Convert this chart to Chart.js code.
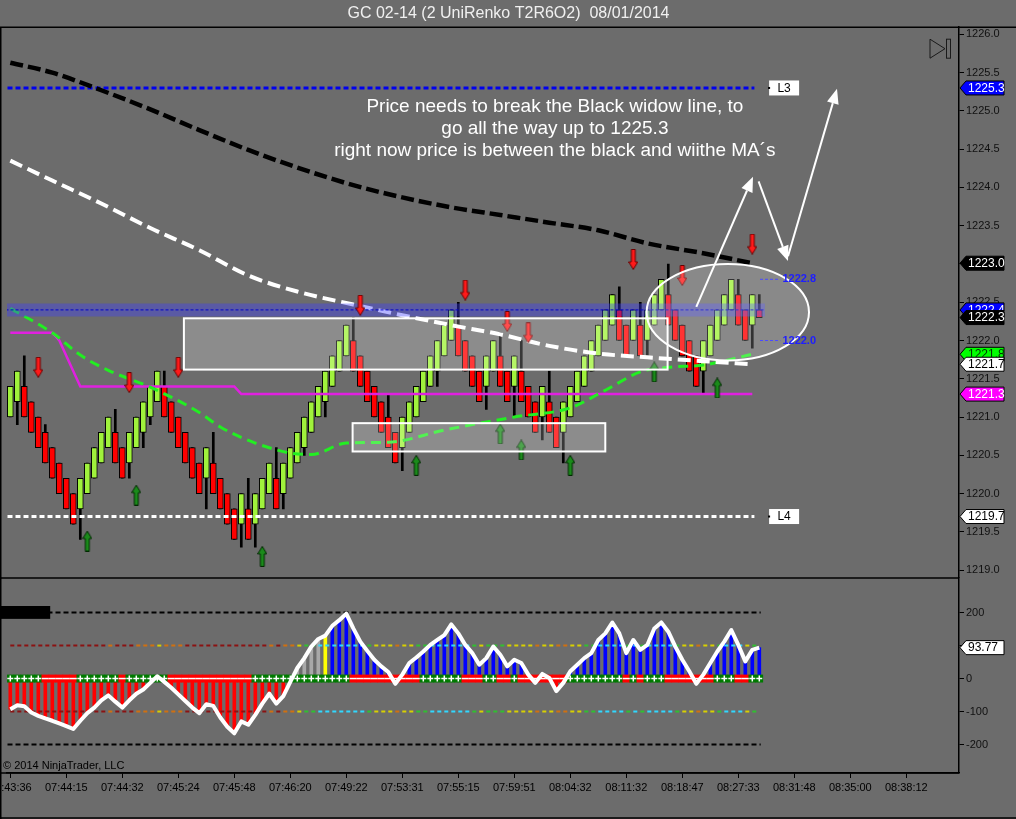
<!DOCTYPE html>
<html>
<head>
<meta charset="utf-8">
<title>GC 02-14 (2 UniRenko T2R6O2) 08/01/2014</title>
<script src="https://cdn.jsdelivr.net/npm/chart.js@4.4.0/dist/chart.umd.min.js"></script>
<style>
  html, body { margin: 0; padding: 0; background: #6c6c6c; }
  #chart { display: block; }
</style>
</head>
<body>
<canvas id="chart" width="1016" height="819"></canvas>
<script>
// ---- price bars, index 1..108
const barOpen = [
  1221.0,1221.2,1221.4,1221.2,1221.0,1220.8,1220.6,1220.4,1220.2,1220.0,
  1219.8,1220.0,1220.2,1220.4,1220.6,1220.8,1220.6,1220.4,1220.6,1220.8,
  1221.0,1221.2,1221.4,1221.2,1221.0,1220.8,1220.6,1220.4,1220.2,1220.4,
  1220.2,1220.0,1219.8,1219.6,1219.8,1219.6,1219.8,1220.0,1220.2,1220.0,
  1220.2,1220.4,1220.6,1220.8,1221.0,1221.2,1221.4,1221.6,1221.8,1222.0,
  1221.8,1221.6,1221.4,1221.2,1221.0,1220.8,1220.6,1220.8,1221.0,1221.2,
  1221.4,1221.6,1221.8,1222.0,1222.2,1222.0,1221.8,1221.6,1221.4,1221.6,
  1221.8,1221.6,1221.4,1221.6,1221.4,1221.2,1221.0,1221.2,1221.0,1220.8,
  1221.0,1221.2,1221.4,1221.6,1221.8,1222.0,1222.2,1222.4,1222.2,1222.0,
  1222.2,1222.0,1222.2,1222.4,1222.6,1222.4,1222.2,1222.0,1221.8,1221.6,
  1221.8,1222.0,1222.2,1222.4,1222.6,1222.4,1222.2,1222.4];
const barClose = [
  1221.4,1221.6,1221.0,1220.8,1220.6,1220.4,1220.2,1220.0,1219.8,1219.6,
  1220.2,1220.4,1220.6,1220.8,1221.0,1220.4,1220.2,1220.8,1221.0,1221.2,
  1221.4,1221.6,1221.0,1220.8,1220.6,1220.4,1220.2,1220.0,1220.6,1220.0,
  1219.8,1219.6,1219.4,1220.0,1219.4,1220.0,1220.2,1220.4,1219.8,1220.4,
  1220.6,1220.8,1221.0,1221.2,1221.4,1221.6,1221.8,1222.0,1222.2,1221.6,
  1221.4,1221.2,1221.0,1220.8,1220.6,1220.4,1221.0,1221.2,1221.4,1221.6,
  1221.8,1222.0,1222.2,1222.4,1221.8,1221.6,1221.4,1221.2,1221.8,1222.0,
  1221.4,1221.2,1221.8,1221.2,1221.0,1220.8,1221.4,1220.8,1220.6,1221.2,
  1221.4,1221.6,1221.8,1222.0,1222.2,1222.4,1222.6,1222.0,1221.8,1222.4,
  1221.8,1222.4,1222.6,1222.8,1222.2,1222.0,1221.8,1221.6,1221.4,1222.0,
  1222.2,1222.4,1222.6,1222.8,1222.2,1222.0,1222.6,1222.3];
// wicks that stick out of the body
const highBars = [3, 6, 16, 23, 30, 35, 39, 50, 55, 65, 71, 74, 78, 88, 91, 95, 105, 108];
const highVals = [1221.8,1220.9,1221.1,1221.6,1220.8,1220.2,1220.6,1222.3,1221.3,1222.5,1222.1,1222.0,1221.6,1222.7,1222.5,1223.0,1222.8,1222.6];
const lowBars = [2, 11, 18, 20, 21, 29, 34, 36, 40, 43, 46, 57, 62, 69, 73, 77, 80, 92, 100, 107];
const lowVals = [1220.9,1219.4,1220.2,1220.6,1220.9,1219.8,1219.3,1219.3,1219.8,1220.5,1221.0,1220.3,1221.4,1221.1,1221.0,1220.7,1220.4,1221.8,1221.3,1221.9];

// signal arrows
const downArrowBars = [5, 18, 25, 51, 66, 72, 75, 90, 97, 107];
const downArrowVals = [1221.65,1221.45,1221.65,1222.46,1222.66,1222.25,1222.10,1223.06,1222.85,1223.26];
const upArrowBars = [12, 19, 37, 59, 71, 74, 81, 93, 102];
const upArrowVals = [1219.38,1219.98,1219.18,1220.37,1220.78,1220.57,1220.37,1221.59,1221.38];

// moving averages (sampled along the bars)
const blackMaBars = [1, 7, 14, 21, 28, 35, 42, 50, 57, 64, 71, 78, 85, 92, 100, 107];
const blackMaVals = [1225.63,1225.50,1225.27,1225.02,1224.75,1224.49,1224.26,1224.03,1223.87,1223.74,1223.64,1223.54,1223.44,1223.27,1223.14,1223.01];
const whiteMaVals = [1224.35,1224.09,1223.79,1223.47,1223.18,1222.85,1222.64,1222.47,1222.33,1222.20,1222.08,1221.93,1221.83,1221.78,1221.73,1221.69];
const greenMaBars = [1, 7, 11, 15, 21, 28, 31, 36, 41, 44, 49, 55, 63, 73, 81, 86, 91, 95, 100, 107];
const greenMaVals = [1222.42,1222.10,1221.81,1221.61,1221.39,1221.06,1220.87,1220.66,1220.53,1220.51,1220.66,1220.67,1220.83,1221.00,1221.12,1221.35,1221.59,1221.65,1221.68,1221.82];
const magentaBars = [1, 7, 8, 11, 33, 34, 107];
const magentaVals = [1222.1, 1222.1, 1222.0, 1221.4, 1221.4, 1221.3, 1221.3];

// horizontal levels
const levelL3 = 1225.3;
const levelL4 = 1219.7;
const bandLevel = 1222.4;
const rangeLevels = [1222.8, 1222.0];

// lower panel: oscillator per bar and trend sign of the zero strip
const cci = [
  -93,-81,-84,-103,-113,-121,-128,-136,-144,-153,
  -128,-105,-88,-66,-51,-70,-88,-66,-46,-33,
  -13,7,-10,-28,-48,-68,-88,-105,-78,-83,
  -118,-146,-166,-130,-140,-110,-76,-46,-76,-53,
  -10,32,62,97,120,130,160,177,197,152,
  112,84,57,37,20,-16,12,47,64,82,
  102,117,132,164,137,102,77,42,62,97,
  72,37,57,47,12,-13,14,2,-38,-13,
  22,42,62,77,117,137,170,137,77,117,
  87,102,152,170,142,97,57,22,-16,12,
  47,82,112,147,102,52,87,93.77];
const trendSign = [
  1,1,1,1,1,-1,-1,-1,-1,-1,
  1,1,1,1,1,1,-1,1,1,1,
  1,1,1,-1,-1,-1,-1,-1,-1,-1,
  -1,-1,-1,-1,-1,1,1,1,1,1,
  1,1,1,1,1,1,1,1,1,-1,
  -1,-1,-1,-1,-1,-1,-1,-1,-1,1,
  1,1,1,1,1,-1,-1,-1,1,1,
  -1,-1,1,-1,-1,-1,-1,-1,-1,-1,
  1,1,1,1,1,1,1,1,-1,1,
  -1,1,1,1,-1,-1,-1,-1,-1,-1,
  -1,1,1,1,-1,-1,1,1];
const cciLevels = [200, 100, -100, -200];

// axes
const timeTickBars = [1, 9, 17, 25, 33, 41, 49, 57, 65, 73, 81, 89, 97, 105, 113, 121, 129];
const timeLabels = ['07:43:36','07:44:15','07:44:32','07:45:24','07:45:48','07:46:20','07:49:22','07:53:31',
  '07:55:15','07:59:51','08:04:32','08:11:32','08:18:47','08:27:33','08:31:48','08:35:00','08:38:12'];
const priceTicks = [1219.0,1219.5,1220.0,1220.5,1221.0,1221.5,1222.0,1222.5,1223.0,1223.5,1224.0,1224.5,1225.0,1225.5,1226.0];
const cciTicks = [200, 100, 0, -100, -200];

// hand drawn marks on the chart (data coordinates)
const zoneBoxes = [
  { x0: 25.8, x1: 94.9, lo: 1221.62, hi: 1222.29 },
  { x0: 49.9, x1: 86.0, lo: 1220.55, hi: 1220.92 }
];
const zoneEllipse = { x0: 91.9, x1: 115.1, lo: 1221.74, hi: 1223.0 };
const pathArrows = [
  { x0: 99.0, y0: 1222.44, x1: 107.1, y1: 1224.14 },
  { x0: 107.9, y0: 1224.08, x1: 112.1, y1: 1223.04 },
  { x0: 112.1, y0: 1223.10, x1: 119.1, y1: 1225.29 }
];
const noteLines = ['Price needs to break the Black widow line, to', 'go all the way up to 1225.3',
  'right now price is between the black and wiithe MA\u00b4s'];
const noteAt = { x: 78.8, y: 1225.05 };

const FONT = '"Liberation Sans", Arial, sans-serif';
const BAR_UP = '#a0f23c';
const BAR_DN = '#ff0000';
const BAR_STEP = 7;      // pixels per bar
const FIRST_BAR_X = 10.3; // pixel centre of bar 1
const bars = barOpen.map((_, i) => i + 1);
const pick = (list, vals, n, dflt) => { const k = list.indexOf(n); return k >= 0 ? vals[k] : dflt; };
const wickLo = bars.map((n, i) => pick(lowBars, lowVals, n, Math.min(barOpen[i], barClose[i])));
const wickHi = bars.map((n, i) => pick(highBars, highVals, n, Math.max(barOpen[i], barClose[i])));
const pts = (xs, ys) => xs.map((x, i) => ({ x: x, y: ys[i] }));
const flat = (x0, x1, v) => [{ x: x0, y: v }, { x: x1, y: v }];

function arrowImage(up, fill, edge) {
  const c = document.createElement('canvas');
  c.width = 10; c.height = 21;
  const g = c.getContext('2d');
  g.beginPath();
  if (up) {
    g.moveTo(5, 0.5); g.lineTo(9.5, 8); g.lineTo(7, 8); g.lineTo(7, 20.5);
    g.lineTo(3, 20.5); g.lineTo(3, 8); g.lineTo(0.5, 8);
  } else {
    g.moveTo(3, 0.5); g.lineTo(7, 0.5); g.lineTo(7, 13); g.lineTo(9.5, 13);
    g.lineTo(5, 20.5); g.lineTo(0.5, 13); g.lineTo(3, 13);
  }
  g.closePath();
  g.fillStyle = fill; g.fill();
  g.strokeStyle = edge; g.lineWidth = 1; g.stroke();
  return c;
}
const downArrow = arrowImage(false, '#ff1a1a', '#6a0000');
const upArrow = arrowImage(true, '#1b8a1b', '#002a00');

const histColor = (v, n) => {
  if (n >= 42 && n <= 45) return '#a8a8a8';
  if (n === 46) return '#ffff00';
  return v < 0 ? '#ff0000' : '#0000ff';
};
const levelColor = v => v < -60 ? '#8b1212' : v < 0 ? '#d07010' : v < 60 ? '#d8d000' : v < 100 ? '#30c030' : '#30d8ff';

function lineSet(label, data, color, width, dash, order, axis) {
  return {
    type: 'line', label: label, data: data, borderColor: color, borderWidth: width,
    borderDash: dash || [], pointRadius: 0, fill: false, tension: 0,
    order: order, yAxisID: axis || 'y', borderCapStyle: 'butt'
  };
}

const overlay = {
  id: 'overlay',
  beforeDraw(chart) {
    const ctx = chart.ctx;
    ctx.save();
    ctx.fillStyle = '#6c6c6c';
    ctx.fillRect(0, 0, chart.width, chart.height);
    ctx.restore();
  },
  afterDatasetsDraw(chart) {
    const { ctx, chartArea: ca } = chart;
    const sx = chart.scales.x, sy = chart.scales.y, sy2 = chart.scales.y2;
    const px = v => sx.getPixelForValue(v), py = v => sy.getPixelForValue(v);
    ctx.save();

    // translucent zones
    ctx.lineWidth = 2;
    ctx.strokeStyle = '#ffffff';
    ctx.fillStyle = 'rgba(255,255,255,0.22)';
    zoneBoxes.forEach(b => {
      const x = px(b.x0), y = py(b.hi), w = px(b.x1) - x, h = py(b.lo) - y;
      ctx.fillRect(x, y, w, h);
      ctx.strokeRect(x, y, w, h);
    });
    const ex = (px(zoneEllipse.x0) + px(zoneEllipse.x1)) / 2, ey = (py(zoneEllipse.lo) + py(zoneEllipse.hi)) / 2;
    ctx.beginPath();
    ctx.ellipse(ex, ey, (px(zoneEllipse.x1) - px(zoneEllipse.x0)) / 2, (py(zoneEllipse.lo) - py(zoneEllipse.hi)) / 2, 0, 0, Math.PI * 2);
    ctx.fillStyle = 'rgba(255,255,255,0.2)';
    ctx.fill();
    ctx.stroke();

    // path arrows
    ctx.fillStyle = '#ffffff';
    pathArrows.forEach(a => {
      const x0 = px(a.x0), y0 = py(a.y0), x1 = px(a.x1), y1 = py(a.y1);
      const ang = Math.atan2(y1 - y0, x1 - x0);
      const bx = x1 - Math.cos(ang) * 15, by = y1 - Math.sin(ang) * 15;
      ctx.beginPath(); ctx.moveTo(x0, y0); ctx.lineTo(bx, by); ctx.stroke();
      ctx.beginPath();
      ctx.moveTo(x1, y1);
      ctx.lineTo(bx + Math.sin(ang) * 6, by - Math.cos(ang) * 6);
      ctx.lineTo(bx - Math.sin(ang) * 6, by + Math.cos(ang) * 6);
      ctx.closePath(); ctx.fill();
    });

    // note
    ctx.font = '19px ' + FONT;
    ctx.textAlign = 'center';
    ctx.textBaseline = 'middle';
    noteLines.forEach((t, i) => ctx.fillText(t, px(noteAt.x), py(noteAt.y) + i * 22));

    // level labels
    ctx.font = '12px ' + FONT;
    [['L3', levelL3], ['L4', levelL4]].forEach(([t, v]) => {
      const x = px(109.4), y = py(v);
      ctx.fillStyle = '#ffffff';
      ctx.fillRect(x, y - 7.5, 30, 15);
      ctx.fillStyle = '#000000';
      ctx.fillRect(x - 1, y - 1, 2, 2);
      ctx.textAlign = 'center';
      ctx.fillText(t, x + 15, y + 0.5);
    });
    ctx.font = 'bold 11px ' + FONT;
    ctx.fillStyle = '#1e1eff';
    ctx.textAlign = 'left';
    rangeLevels.forEach(v => ctx.fillText(v.toFixed(1), px(111.3), py(v)));

    // lower panel marker block
    ctx.fillStyle = '#000000';
    const bx1 = px(6.7), by0 = sy2.getPixelForValue(220), by1 = sy2.getPixelForValue(181);
    ctx.fillRect(0, by0, bx1, by1 - by0);

    // copyright and the scroll icon
    ctx.font = '11px ' + FONT;
    ctx.fillStyle = '#000000';
    ctx.textAlign = 'left';
    ctx.fillText('\u00a9 2014 NinjaTrader, LLC', 3, ca.bottom - 7);
    ctx.strokeStyle = '#1a1a1a';
    ctx.lineWidth = 1;
    const ix = ca.right - 29, iy = ca.top + 12;
    ctx.beginPath(); ctx.moveTo(ix, iy); ctx.lineTo(ix + 15, iy + 9.5); ctx.lineTo(ix, iy + 19); ctx.closePath(); ctx.stroke();
    ctx.strokeRect(ix + 16.5, iy, 4, 19);
    ctx.restore();
  },
  afterDraw(chart) {
    const { ctx, chartArea: ca } = chart;
    const sy = chart.scales.y, sy2 = chart.scales.y2;
    ctx.save();
    // frame
    ctx.strokeStyle = '#000000';
    ctx.lineWidth = 1.5;
    ctx.beginPath();
    ctx.moveTo(0, ca.top); ctx.lineTo(chart.width, ca.top);
    ctx.moveTo(0.75, ca.top); ctx.lineTo(0.75, chart.height);
    ctx.moveTo(0, sy.bottom); ctx.lineTo(ca.right, sy.bottom);
    ctx.moveTo(0, ca.bottom); ctx.lineTo(ca.right, ca.bottom);
    ctx.moveTo(0, chart.height - 1); ctx.lineTo(chart.width, chart.height - 1);
    ctx.stroke();

    // price tags on the axis
    const tags = [
      [sy, levelL3, '#0000ff', '#ffffff', 1],
      [sy, blackMaVals[blackMaVals.length - 1], '#000000', '#ffffff', 1],
      [sy, bandLevel, '#0000ff', '#ffffff', 1],
      [sy, barClose[barClose.length - 1], '#000000', '#ffffff', 1],
      [sy, greenMaVals[greenMaVals.length - 1], '#00ff00', '#003300', 1],
      [sy, whiteMaVals[whiteMaVals.length - 1], '#ffffff', '#000000', 1],
      [sy, magentaVals[magentaVals.length - 1], '#ff00ff', '#ffffff', 1],
      [sy, levelL4, '#ffffff', '#000000', 1],
      [sy2, cci[cci.length - 1], '#ffffff', '#000000', 2]
    ];
    ctx.font = '12px ' + FONT;
    ctx.textAlign = 'left';
    ctx.textBaseline = 'middle';
    tags.forEach(([s, v, bg, fg, d]) => {
      const y = s.getPixelForValue(v), x0 = ca.right, h = 14, w = 45;
      ctx.beginPath();
      ctx.moveTo(x0 + 1, y);
      ctx.lineTo(x0 + 7, y - h / 2);
      ctx.lineTo(x0 + w, y - h / 2);
      ctx.lineTo(x0 + w, y + h / 2);
      ctx.lineTo(x0 + 7, y + h / 2);
      ctx.closePath();
      ctx.fillStyle = bg; ctx.fill();
      ctx.strokeStyle = '#000000'; ctx.lineWidth = 1; ctx.stroke();
      ctx.fillStyle = fg;
      ctx.fillText(v.toFixed(d), x0 + 9, y + 0.5);
    });
    ctx.restore();
  }
};

const datasets = [
  // price panel
  { type: 'bar', label: 'wicks', data: bars.map((n, i) => ({ x: n, y: [wickLo[i], wickHi[i]] })),
    backgroundColor: '#000000', barThickness: 2, grouped: false, order: 40, yAxisID: 'y' },
  { type: 'bar', label: 'bars', data: bars.map((n, i) => ({ x: n, y: [barOpen[i], barClose[i]] })),
    backgroundColor: bars.map((n, i) => barClose[i] >= barOpen[i] ? BAR_UP : BAR_DN),
    borderColor: '#000000', borderWidth: 1, borderSkipped: false, barThickness: 6, grouped: false, order: 39, yAxisID: 'y' },
  lineSet('L3', flat(0.6, 107.3, levelL3), '#0000ee', 3, [5, 3], 30),
  lineSet('L4', flat(0.6, 107.3, levelL4), '#ffffff', 3, [5, 3], 30),
  lineSet('range hi', flat(108.1, 111.0, rangeLevels[0]), '#1e1eff', 1, [3, 2], 30),
  lineSet('range lo', flat(108.1, 111.0, rangeLevels[1]), '#1e1eff', 1, [3, 2], 30),
  lineSet('magenta', pts(magentaBars, magentaVals), '#e020e0', 2.5, [], 25),
  Object.assign(lineSet('green MA', pts(greenMaBars, greenMaVals), '#22ee22', 3, [10, 6], 24), { cubicInterpolationMode: 'monotone' }),
  Object.assign(lineSet('white MA', pts(blackMaBars, whiteMaVals), '#ffffff', 4, [13, 6], 23), { cubicInterpolationMode: 'monotone' }),
  Object.assign(lineSet('black MA', pts(blackMaBars, blackMaVals), '#000000', 4.5, [13, 5], 22), { cubicInterpolationMode: 'monotone' }),
  lineSet('band', flat(-0.4, 108.8, bandLevel), 'rgba(60,60,255,0.38)', 13, [], 21),
  lineSet('band line', flat(-0.4, 108.8, bandLevel), '#0000cc', 1, [3, 2], 20),
  { type: 'line', label: 'sell', data: pts(downArrowBars, downArrowVals), showLine: false,
    pointStyle: downArrow, pointRadius: 6, order: 10, yAxisID: 'y' },
  { type: 'line', label: 'buy', data: pts(upArrowBars, upArrowVals), showLine: false,
    pointStyle: upArrow, pointRadius: 6, order: 10, yAxisID: 'y' },

  // oscillator panel
  { type: 'bar', label: 'hist', data: bars.map((n, i) => ({ x: n, y: [0, cci[i]] })),
    backgroundColor: bars.map((n, i) => histColor(cci[i], n)), barThickness: 3, grouped: false, order: 40, yAxisID: 'y2' },
  { type: 'bar', label: 'strip', data: bars.map(n => ({ x: n, y: [-11, 11] })),
    backgroundColor: trendSign.map(s => s > 0 ? '#007a00' : '#ff0000'), barThickness: 7, grouped: false, order: 35, yAxisID: 'y2' },
  { type: 'line', label: 'signs', data: bars.map(n => ({ x: n, y: 0 })), showLine: false,
    pointStyle: trendSign.map(s => s > 0 ? 'cross' : 'line'), pointRadius: trendSign.map(s => s > 0 ? 3 : 3.5),
    borderColor: '#ffffff', borderWidth: 1.5, order: 34, yAxisID: 'y2' },
  lineSet('+200', flat(0.6, 108.2, cciLevels[0]), '#000000', 2, [5, 3], 33, 'y2'),
  lineSet('-200', flat(0.6, 108.2, cciLevels[3]), '#000000', 2, [5, 3], 33, 'y2'),
  Object.assign(lineSet('+100', bars.map(n => ({ x: n, y: cciLevels[1] })), '#8b1212', 2, [4, 3], 33, 'y2'),
    { segment: { borderColor: c => levelColor(cci[c.p0DataIndex]) } }),
  Object.assign(lineSet('-100', bars.map(n => ({ x: n, y: cciLevels[2] })), '#8b1212', 2, [4, 3], 33, 'y2'),
    { segment: { borderColor: c => levelColor(cci[c.p0DataIndex]) } }),
  Object.assign(lineSet('CCI', pts(bars, cci), '#ffffff', 4, [], 5, 'y2'), { borderJoinStyle: 'round' })
];

const tickFont = { family: FONT, size: 11 };
const chart = new Chart(document.getElementById('chart'), {
  type: 'bar',
  data: { datasets: datasets },
  plugins: [overlay],
  options: {
    responsive: false,
    animation: false,
    devicePixelRatio: 1,
    layout: { padding: { left: 1, right: 0, top: 0, bottom: 0 } },
    plugins: {
      legend: { display: false },
      tooltip: { enabled: false },
      title: {
        display: true,
        text: 'GC 02-14 (2 UniRenko T2R6O2)  08/01/2014',
        color: '#f0f0f0',
        font: { family: FONT, size: 16, weight: 'normal' },
        padding: { top: 4, bottom: 4 }
      }
    },
    scales: {
      x: {
        type: 'linear', min: -0.33, max: 136.53, offset: false,
        grid: { drawOnChartArea: false, color: '#000000', tickLength: 5, offset: false },
        border: { color: '#000000', width: 1.5 },
        ticks: { color: '#000000', font: tickFont, autoSkip: false, maxRotation: 0, minRotation: 0, padding: 3,
          callback: v => timeLabels[timeTickBars.indexOf(v)] },
        afterBuildTicks: s => { s.ticks = timeTickBars.map(v => ({ value: v })); },
        afterFit: s => { s.height = 46; s.paddingLeft = 0; s.paddingRight = 0; }
      },
      y: {
        type: 'linear', position: 'right', stack: 'panes', stackWeight: 551,
        min: 1218.898, max: 1226.094,
        grid: { drawOnChartArea: false, color: '#000000', tickLength: 5 },
        border: { color: '#000000', width: 1.5 },
        ticks: { color: '#111111', font: tickFont, padding: 2, callback: v => v.toFixed(1) },
        afterBuildTicks: s => { s.ticks = priceTicks.map(v => ({ value: v })); },
        afterFit: s => { s.width = 57; s.paddingTop = 0; s.paddingBottom = 0; }
      },
      y2: {
        type: 'linear', position: 'right', stack: 'panes', stackWeight: 195.2,
        min: -286.4, max: 305.2,
        grid: { drawOnChartArea: false, color: '#000000', tickLength: 5 },
        border: { color: '#000000', width: 1.5 },
        ticks: { color: '#111111', font: tickFont, padding: 2, callback: v => String(v) },
        afterBuildTicks: s => { s.ticks = cciTicks.map(v => ({ value: v })); },
        afterFit: s => { s.width = 57; s.paddingTop = 0; s.paddingBottom = 0; }
      }
    }
  }
});

// pin the bar spacing to the real plot area once it is known
const area = chart.chartArea;
const xMin = 1 - (FIRST_BAR_X - area.left) / BAR_STEP;
chart.options.scales.x.min = xMin;
chart.options.scales.x.max = xMin + (area.right - area.left) / BAR_STEP;
chart.update();
</script>
</body>
</html>
